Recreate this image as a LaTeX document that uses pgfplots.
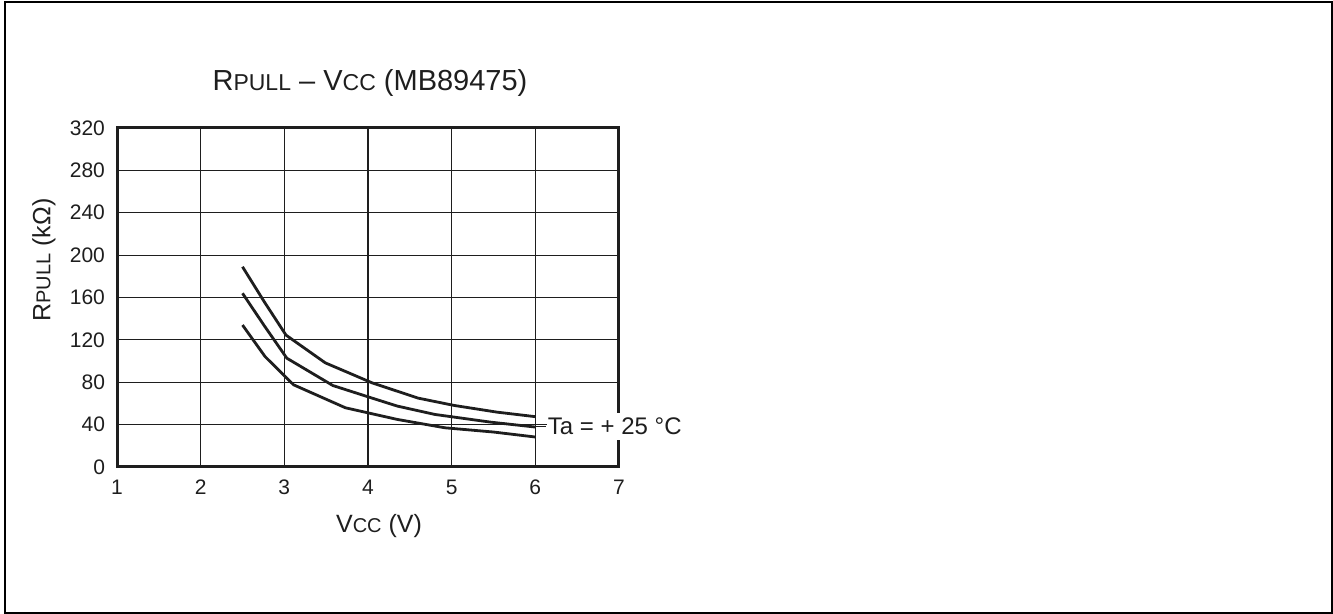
\documentclass[border=0pt]{standalone}
\usepackage{fontspec}
\setmainfont{Liberation Sans}
\usepackage{pgfplots}
\pgfplotsset{compat=1.18}
\definecolor{ink}{HTML}{1E1E1E}
\begin{document}
\begin{tikzpicture}
\path[use as bounding box] (0pt,0pt) rectangle (666.5pt,307pt);
\draw[line width=1pt, black] (2.5pt,0.5pt) rectangle (666pt,306pt);
\begin{axis}[
  at={(58.5pt,73.5pt)}, anchor=south west,
  width=251pt, height=169.5pt, scale only axis,
  xmin=1, xmax=7, ymin=0, ymax=320,
  xtick={1,2,3,4,5,6,7},
  ytick={0,40,80,120,160,200,240,280,320},
  grid=major,
  major grid style={line width=0.55pt, ink},
  major tick length=0pt,
  axis line style={line width=1.5pt, ink},
  tick label style={font=\fontsize{10.5}{13}\selectfont, text=ink},
  /pgf/number format/assume math mode=true,
  yticklabel style={xshift=-2.5pt},
  xticklabel style={yshift=-3pt},
]
\addplot[ink, line width=1.4pt, line join=round] coordinates {
(2.5,189) (2.76,156) (3.02,124.5) (3.49,98.3) (4.05,79.4) (4.60,65) (5.03,58.1) (5.54,51.8) (6.0,47.5)};
\addplot[ink, line width=1.4pt, line join=round] coordinates {
(2.5,164) (2.76,133.4) (3.03,102.7) (3.58,76.9) (4.05,65) (4.35,57.5) (4.80,49.6) (5.46,42.4) (6.0,37.7)};
\addplot[ink, line width=1.4pt, line join=round] coordinates {
(2.5,134) (2.77,104.2) (3.11,77.6) (3.73,55.9) (4.35,44.9) (4.92,37) (5.50,33) (6.0,28.3)};
\coordinate (lab) at (axis cs:6,38.5);
\end{axis}
\draw[ink, line width=0.6pt] (lab) -- ++(5.5pt,0) node[right, fill=white, inner xsep=0.5pt, inner ysep=2.5pt, text=ink, font=\fontsize{12}{14}\selectfont] {Ta = + 25 °C};
\node[text=ink] at (185pt,265.5pt) {\fontsize{14.5}{16}\selectfont R\fontsize{11.5}{13}\selectfont PULL\fontsize{14.5}{16}\selectfont{} – V\fontsize{11.5}{13}\selectfont CC\fontsize{14.5}{16}\selectfont{} (MB89475)};
\node[text=ink] at (189.5pt,44pt) {\fontsize{12.5}{14}\selectfont V\fontsize{10}{12}\selectfont CC\fontsize{12.5}{14}\selectfont{} (V)};
\node[text=ink, rotate=90] at (22pt,177pt) {\fontsize{12.5}{14}\selectfont R\fontsize{10}{12}\selectfont PULL\fontsize{12.5}{14}\selectfont{} (kΩ)};
\end{tikzpicture}
\end{document}
